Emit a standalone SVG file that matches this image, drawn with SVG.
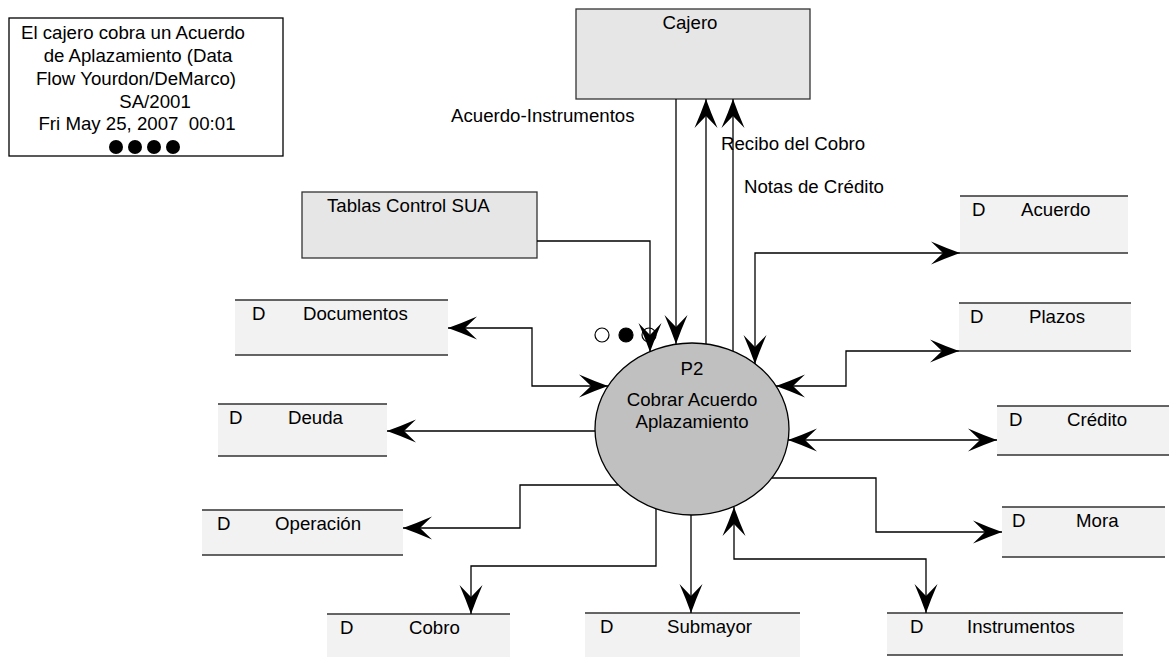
<svg xmlns="http://www.w3.org/2000/svg" width="1169" height="657" viewBox="0 0 1169 657">
  <style>
    text { font-family: "Liberation Sans", Arial, sans-serif; font-size: 18.67px; fill: #000; white-space: pre; }
    .title { text-anchor: middle; }
    .ext { fill: #e6e6e6; stroke: #333; stroke-width: 1.3; }
    .store-bg { fill: #f2f2f2; stroke: none; }
    .store-line { stroke: #333; stroke-width: 1.3; fill: none; }
    .flow { fill: none; stroke: #000; stroke-width: 1.3; }
    .one { marker-end: url(#ah); }
    .two { marker-start: url(#ah); marker-end: url(#ah); }
  </style>
  <defs>
    <marker id="ah" markerUnits="userSpaceOnUse" orient="auto-start-reverse" overflow="visible" refX="0" refY="0" markerWidth="1" markerHeight="1">
      <path d="M0,0 Q-14,-5 -29,-11.5 L-17,0 L-29,11.5 Q-14,5 0,0 Z" fill="#000"/>
    </marker>
  </defs>

  <rect width="1169" height="657" fill="#fff"/>

  <!-- title block -->
  <g id="title">
    <rect x="9" y="18" width="274" height="138" fill="#fff" stroke="#000" stroke-width="1.3"/>
    <text class="title" x="133" y="39">El cajero cobra un Acuerdo</text>
    <text class="title" x="138" y="62">de Aplazamiento (Data</text>
    <text class="title" x="136" y="85">Flow Yourdon/DeMarco)</text>
    <text class="title" x="155" y="108">SA/2001</text>
    <text class="title" x="137" y="130">Fri May 25, 2007  00:01</text>
    <circle cx="116" cy="147" r="7"/>
    <circle cx="135" cy="147" r="7"/>
    <circle cx="154" cy="147" r="7"/>
    <circle cx="173" cy="147" r="7"/>
  </g>

  <!-- external entities -->
  <g id="cajero">
    <rect class="ext" x="576" y="9" width="234" height="90"/>
    <text x="690" y="29" text-anchor="middle">Cajero</text>
  </g>
  <g id="tablas">
    <rect class="ext" x="302" y="192" width="235" height="66"/>
    <text x="327" y="212">Tablas Control SUA</text>
  </g>

  <!-- data stores -->
  <g id="ds-acuerdo">
    <rect class="store-bg" x="960" y="196" width="168" height="57"/>
    <path class="store-line" d="M960,196 H1128 M960,253 H1128"/>
    <text x="972" y="216">D</text><text x="1021" y="216">Acuerdo</text>
  </g>
  <g id="ds-plazos">
    <rect class="store-bg" x="959" y="303" width="172" height="48"/>
    <path class="store-line" d="M959,303 H1131 M959,351 H1131"/>
    <text x="970" y="323">D</text><text x="1029" y="323">Plazos</text>
  </g>
  <g id="ds-credito">
    <rect class="store-bg" x="997" y="406" width="172" height="49"/>
    <path class="store-line" d="M997,406 H1169 M997,455 H1169"/>
    <text x="1009" y="426">D</text><text x="1067" y="426">Crédito</text>
  </g>
  <g id="ds-mora">
    <rect class="store-bg" x="1002" y="507" width="163" height="50"/>
    <path class="store-line" d="M1002,507 H1165 M1002,557 H1165"/>
    <text x="1012" y="527">D</text><text x="1076" y="527">Mora</text>
  </g>
  <g id="ds-instrumentos">
    <rect class="store-bg" x="887" y="613" width="236" height="42"/>
    <path class="store-line" d="M887,613 H1123 M887,655 H1123"/>
    <text x="910" y="633">D</text><text x="967" y="633">Instrumentos</text>
  </g>
  <g id="ds-submayor">
    <rect class="store-bg" x="585" y="613" width="215" height="44"/>
    <path class="store-line" d="M585,613 H800"/>
    <text x="600" y="633">D</text><text x="667" y="633">Submayor</text>
  </g>
  <g id="ds-cobro">
    <rect class="store-bg" x="327" y="614" width="183" height="43"/>
    <path class="store-line" d="M327,614 H510"/>
    <text x="340" y="634">D</text><text x="409" y="634">Cobro</text>
  </g>
  <g id="ds-operacion">
    <rect class="store-bg" x="202" y="510" width="201" height="45"/>
    <path class="store-line" d="M202,510 H403 M202,555 H403"/>
    <text x="217" y="530">D</text><text x="275" y="530">Operación</text>
  </g>
  <g id="ds-deuda">
    <rect class="store-bg" x="218" y="404" width="169" height="52"/>
    <path class="store-line" d="M218,404 H387 M218,456 H387"/>
    <text x="229" y="424">D</text><text x="288" y="424">Deuda</text>
  </g>
  <g id="ds-documentos">
    <rect class="store-bg" x="235" y="300" width="213" height="55"/>
    <path class="store-line" d="M235,300 H448 M235,355 H448"/>
    <text x="252" y="320">D</text><text x="303" y="320">Documentos</text>
  </g>

  <!-- process -->
  <g id="p2">
    <ellipse cx="692" cy="429" rx="97" ry="86" fill="#c0c0c0" stroke="#000" stroke-width="1.3"/>
    <text x="692" y="375" text-anchor="middle">P2</text>
    <text x="692" y="406" text-anchor="middle">Cobrar Acuerdo</text>
    <text x="692" y="428" text-anchor="middle">Aplazamiento</text>
  </g>

  <!-- status marks -->
  <g id="marks" stroke="#000" stroke-width="1.2">
    <circle cx="602" cy="335" r="7" fill="#fff"/>
    <circle cx="626" cy="335" r="7" fill="#000"/>
    <circle cx="649" cy="335" r="7" fill="#fff"/>
  </g>

  <!-- data flows -->
  <g id="connectors">
    <path class="flow one" d="M676,99 V344"/>
    <path class="flow one" d="M706,344 V99"/>
    <path class="flow one" d="M733,351 V99"/>
    <path class="flow one" d="M537,241 H650 V352"/>
    <path class="flow two" d="M755,364 V253 H960"/>
    <path class="flow two" d="M776,386 H846 V351 H959"/>
    <path class="flow two" d="M788,440 H997"/>
    <path class="flow one" d="M772,478 H876 V532 H1002"/>
    <path class="flow two" d="M926,613 V559 H734 V507"/>
    <path class="flow one" d="M691,515 V613"/>
    <path class="flow one" d="M656,509 V566 H471 V614"/>
    <path class="flow one" d="M618,485 H520 V528 H403"/>
    <path class="flow one" d="M595,431 H387"/>
    <path class="flow two" d="M608,386 H532 V328 H448"/>
  </g>

  <!-- flow labels -->
  <g id="labels">
    <text x="451" y="122">Acuerdo-Instrumentos</text>
    <text x="721" y="150">Recibo del Cobro</text>
    <text x="744" y="193">Notas de Crédito</text>
  </g>
</svg>
